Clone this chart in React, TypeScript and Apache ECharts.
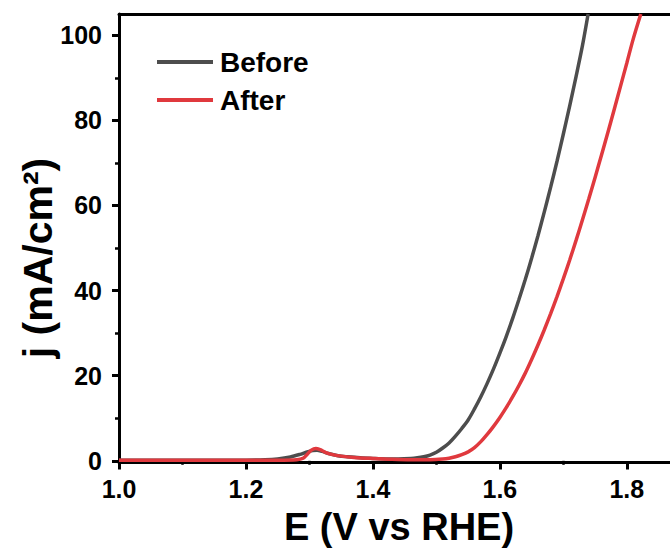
import React, { useEffect, useRef } from "react";
import * as echarts from "echarts";

const FONT = "'Liberation Sans', Arial, sans-serif";

const seriesNames = ["Before", "After"];
const xTickLabels = [1.0, 1.2, 1.4, 1.6, 1.8];
const xMinorTicks = [1.1, 1.3, 1.5, 1.7];
const yTickLabels = [0, 20, 40, 60, 80, 100];
const yMinorTicks = [10, 30, 50, 70, 90];

const beforeE = [
  1.0, 1.05, 1.1, 1.15, 1.2, 1.23, 1.25, 1.27, 1.285, 1.295, 1.305, 1.312, 1.32, 1.33,
  1.345, 1.36, 1.38, 1.4, 1.42, 1.44, 1.46, 1.47, 1.48, 1.49, 1.5, 1.51, 1.52, 1.53,
  1.54, 1.55, 1.56, 1.57, 1.58, 1.59, 1.6, 1.61, 1.62, 1.63, 1.64, 1.65, 1.66, 1.67,
  1.68, 1.69, 1.7, 1.71, 1.72, 1.73, 1.739,
];
const beforeJ = [
  0.1, 0.1, 0.1, 0.1, 0.15, 0.25, 0.45, 0.9, 1.5, 2.0, 2.4, 2.5, 2.2, 1.7,
  1.2, 0.95, 0.7, 0.55, 0.45, 0.45, 0.55, 0.7, 0.95, 1.35, 2.0, 3.0, 4.2, 5.8,
  7.6, 9.6, 12.2, 15.05, 18.2, 21.6, 25.3, 29.2, 33.4, 37.9, 42.6, 47.6, 52.9, 58.5,
  64.3, 70.4, 76.8, 83.4, 90.3, 97.5, 105,
];

const afterE = [
  1.0, 1.1, 1.2, 1.25, 1.28, 1.29, 1.297, 1.303, 1.31, 1.317, 1.325, 1.335, 1.35,
  1.37, 1.4, 1.43, 1.46, 1.49, 1.51, 1.52, 1.53, 1.54, 1.55, 1.56, 1.57, 1.58, 1.59,
  1.6, 1.61, 1.62, 1.63, 1.64, 1.65, 1.66, 1.67, 1.68, 1.69, 1.7, 1.71, 1.72, 1.73,
  1.74, 1.75, 1.76, 1.77, 1.78, 1.79, 1.8, 1.81, 1.822,
];
const afterJ = [
  0.15, 0.15, 0.15, 0.15, 0.25, 0.6, 1.6, 2.5, 2.9, 2.6, 2.0, 1.5, 1.1,
  0.8, 0.55, 0.35, 0.25, 0.25, 0.4, 0.6, 0.95, 1.45, 2.1, 3.1, 4.5, 6.2, 8.1,
  10.2, 12.5, 15.0, 17.7, 20.6, 23.8, 27.2, 30.8, 34.6, 38.6, 42.8, 47.2, 51.8, 56.6,
  61.5, 66.6, 71.8, 77.1, 82.5, 88.0, 93.5, 99.1, 105,
];

const pairs = (xs: number[], ys: number[]) => xs.map((x, i) => [x, ys[i]]);

export default function App() {
  const ref = useRef<HTMLDivElement>(null);
  useEffect(() => {
    document.body.style.margin = "0";
    const chart = echarts.init(ref.current!, null, { renderer: "svg" });
    const X_MIN = 1.0;
    const X_MAX = 1.868;
    const Y_MIN = -0.4;
    const Y_MAX = 105;
    chart.setOption({
      animation: false,
      backgroundColor: "#fff",
      textStyle: { fontFamily: FONT },
      grid: { left: 119, top: 14, right: 0, bottom: 90.5 },
      legend: {
        data: seriesNames,
        orient: "vertical",
        left: 157,
        top: 47,
        padding: 0,
        itemWidth: 56,
        itemHeight: 4,
        itemGap: 8,
        icon: "rect",
        textStyle: {
          fontSize: 28,
          fontWeight: "bold",
          color: "#000",
          fontFamily: FONT,
          lineHeight: 30,
          padding: [0, 0, 0, 2],
        },
      },
      xAxis: [
        {
          type: "value",
          min: X_MIN,
          max: X_MAX,
          position: "bottom",
          splitLine: { show: false },
          axisLine: { show: true, onZero: false, lineStyle: { color: "#000", width: 3 } },
          axisTick: {
            show: true,
            inside: false,
            length: 7,
            lineStyle: { color: "#000", width: 3 },
            customValues: xTickLabels,
          },
          axisLabel: {
            show: true,
            margin: 14,
            color: "#000",
            fontSize: 25,
            fontWeight: "bold",
            fontFamily: FONT,
            customValues: xTickLabels,
            formatter: (v: number) => v.toFixed(1),
          },
        },
        {
          type: "value",
          min: X_MIN,
          max: X_MAX,
          position: "bottom",
          splitLine: { show: false },
          axisLine: { show: false },
          axisTick: {
            show: true,
            inside: false,
            length: 4,
            lineStyle: { color: "#000", width: 2.5 },
            customValues: xMinorTicks,
          },
          axisLabel: { show: false },
        },
        {
          type: "value",
          min: X_MIN,
          max: X_MAX,
          position: "top",
          splitLine: { show: false },
          axisLine: { show: true, onZero: false, lineStyle: { color: "#000", width: 3 } },
          axisTick: { show: false },
          axisLabel: { show: false },
        },
      ],
      yAxis: [
        {
          type: "value",
          min: Y_MIN,
          max: Y_MAX,
          position: "left",
          splitLine: { show: false },
          axisLine: { show: true, onZero: false, lineStyle: { color: "#000", width: 3 } },
          axisTick: {
            show: true,
            inside: false,
            length: 7,
            lineStyle: { color: "#000", width: 3 },
            customValues: yTickLabels,
          },
          axisLabel: {
            show: true,
            margin: 17,
            color: "#000",
            fontSize: 25,
            fontWeight: "bold",
            fontFamily: FONT,
            customValues: yTickLabels,
          },
        },
        {
          type: "value",
          min: Y_MIN,
          max: Y_MAX,
          position: "left",
          splitLine: { show: false },
          axisLine: { show: false },
          axisTick: {
            show: true,
            inside: false,
            length: 4,
            lineStyle: { color: "#000", width: 2.5 },
            customValues: yMinorTicks,
          },
          axisLabel: { show: false },
        },
      ],
      series: [
        {
          name: seriesNames[0],
          type: "line",
          data: pairs(beforeE, beforeJ),
          showSymbol: false,
          symbol: "none",
          smooth: 0.3,
          color: "#4d4d4d",
          lineStyle: { color: "#4d4d4d", width: 3.5 },
          z: 2,
        },
        {
          name: seriesNames[1],
          type: "line",
          data: pairs(afterE, afterJ),
          showSymbol: false,
          symbol: "none",
          smooth: 0.3,
          color: "#e0393e",
          lineStyle: { color: "#e0393e", width: 3.5 },
          z: 3,
        },
      ],
      graphic: [
        {
          type: "text",
          x: 399,
          y: 527,
          style: {
            text: "E (V vs RHE)",
            font: `bold 38px ${FONT}`,
            fill: "#000",
            textAlign: "center",
            textVerticalAlign: "middle",
          },
        },
        {
          type: "text",
          x: 38,
          y: 258,
          rotation: Math.PI / 2,
          style: {
            text: "j (mA/cm²)",
            font: `bold 41px ${FONT}`,
            fill: "#000",
            textAlign: "center",
            textVerticalAlign: "middle",
          },
        },
      ],
    });
    return () => chart.dispose();
  }, []);
  return (
    <div
      ref={ref}
      style={{ position: "fixed", left: 0, top: 0, width: 670, height: 553 }}
    />
  );
}
